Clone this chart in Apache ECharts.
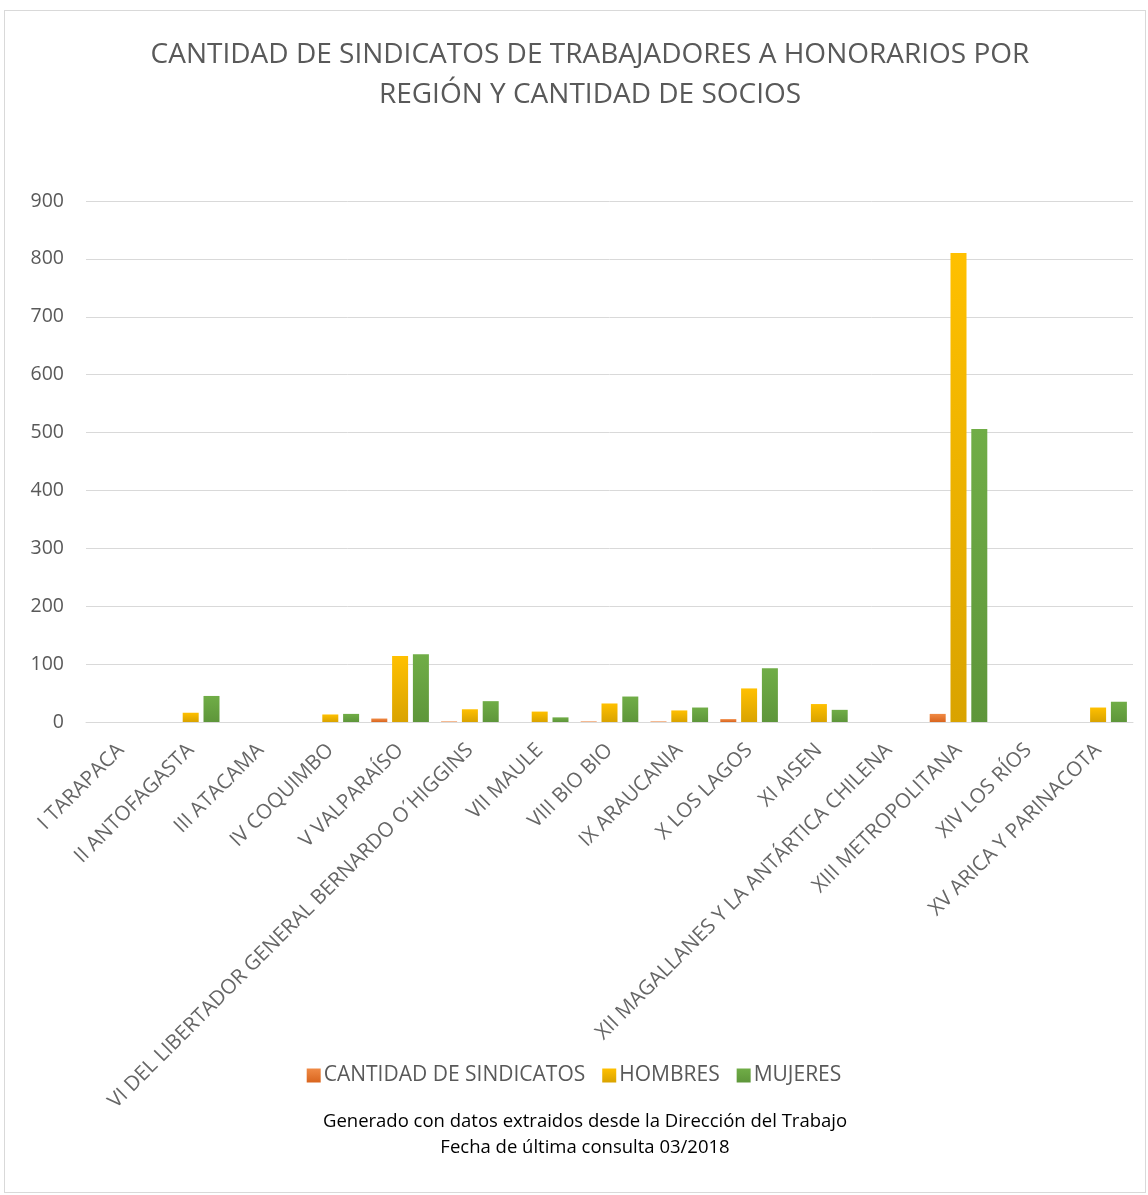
<!DOCTYPE html>
<html>
<head>
<meta charset="UTF-8">
<title>Sindicatos a honorarios</title>
<script src="https://cdn.jsdelivr.net/npm/echarts@6/dist/echarts.min.js"></script>
<style>
  html, body { margin: 0; padding: 0; background: #fff; }
  #box { position: absolute; left: 4px; top: 10px; width: 1142px; height: 1183px; border: 1px solid #d9d9d9; box-sizing: border-box; }
  #chart { width: 1148px; height: 1195px; }
</style>
</head>
<body>
<div id="box"></div>
<div id="chart"></div>
<script>
// regiones
var regiones = ['I TARAPACA', 'II ANTOFAGASTA', 'III ATACAMA', 'IV COQUIMBO', 'V VALPARAÍSO',
  'VI DEL LIBERTADOR GENERAL BERNARDO O\u00B4HIGGINS', 'VII MAULE', 'VIII BIO BIO', 'IX ARAUCANIA',
  'X LOS LAGOS', 'XI AISEN', 'XII MAGALLANES Y LA ANTÁRTICA CHILENA', 'XIII METROPOLITANA',
  'XIV LOS RÍOS', 'XV ARICA Y PARINACOTA'];
var sindicatos = [0, 0, 0, 0, 6, 1, 0, 1, 1, 5, 0, 0, 14, 0, 0];
var hombres    = [0, 16, 0, 13, 114, 22, 18, 32, 20, 58, 31, 0, 810, 0, 25];
var mujeres    = [0, 45, 0, 14, 117, 36, 8, 44, 25, 93, 21, 0, 506, 0, 35];
var yTicks = [0, 900, 100]; // min, max, intervalo

var chart = echarts.init(document.getElementById('chart'));

function grad(top, bottom) {
  return new echarts.graphic.LinearGradient(0, 0, 0, 1, [
    { offset: 0, color: top }, { offset: 1, color: bottom }
  ]);
}

var option = {
  animation: false,
  textStyle: { fontFamily: 'Open Sans' },
  title: {
    text: 'CANTIDAD DE SINDICATOS DE TRABAJADORES A HONORARIOS POR\nREGIÓN Y CANTIDAD DE SOCIOS',
    left: 585, top: 30, textAlign: 'center',
    textStyle: { fontSize: 28, fontWeight: 'normal', color: '#595959', lineHeight: 40, fontFamily: 'Open Sans' }
  },
  legend: {
    data: ['CANTIDAD DE SINDICATOS', 'HOMBRES', 'MUJERES'],
    left: 'center', top: 1060,
    itemWidth: 14, itemHeight: 14, itemGap: 17, icon: 'rect',
    textStyle: { fontSize: 21, color: '#595959', padding: [0, 0, 0, -2] }
  },
  graphic: [
    { type: 'text', x: 585, y: 1112, style: { text: 'Generado con datos extraidos desde la Dirección del Trabajo', align: 'center', fontSize: 18.5, fill: '#000', fontFamily: 'Open Sans' } },
    { type: 'text', x: 585, y: 1138, style: { text: 'Fecha de última consulta 03/2018', align: 'center', fontSize: 18.5, fill: '#000', fontFamily: 'Open Sans' } }
  ],
  grid: { left: 86, right: 15, top: 201, bottom: 473, containLabel: false },
  xAxis: {
    type: 'category',
    data: regiones,
    axisLine: { show: true, lineStyle: { color: '#d9d9d9' } },
    axisTick: { show: false },
    axisLabel: { rotate: 45, interval: 0, fontSize: 20.5, color: '#666666', margin: 25 }
  },
  yAxis: {
    type: 'value',
    min: yTicks[0], max: yTicks[1], interval: yTicks[2],
    axisLine: { show: false },
    axisTick: { show: false },
    splitLine: { lineStyle: { color: '#d9d9d9', width: 1 } },
    axisLabel: { fontSize: 19.5, color: '#595959', margin: 22 }
  },
  series: [
    { name: 'CANTIDAD DE SINDICATOS', type: 'bar', data: sindicatos, barWidth: 16, barGap: '30%',
      itemStyle: { color: grad('#F08A45', '#D9651E') } },
    { name: 'HOMBRES', type: 'bar', data: hombres, barWidth: 16, barGap: '30%',
      itemStyle: { color: grad('#FFC000', '#D9A300') } },
    { name: 'MUJERES', type: 'bar', data: mujeres, barWidth: 16, barGap: '30%',
      itemStyle: { color: grad('#70AD47', '#5E963A') } }
  ]
};
chart.setOption(option);
</script>
</body>
</html>
